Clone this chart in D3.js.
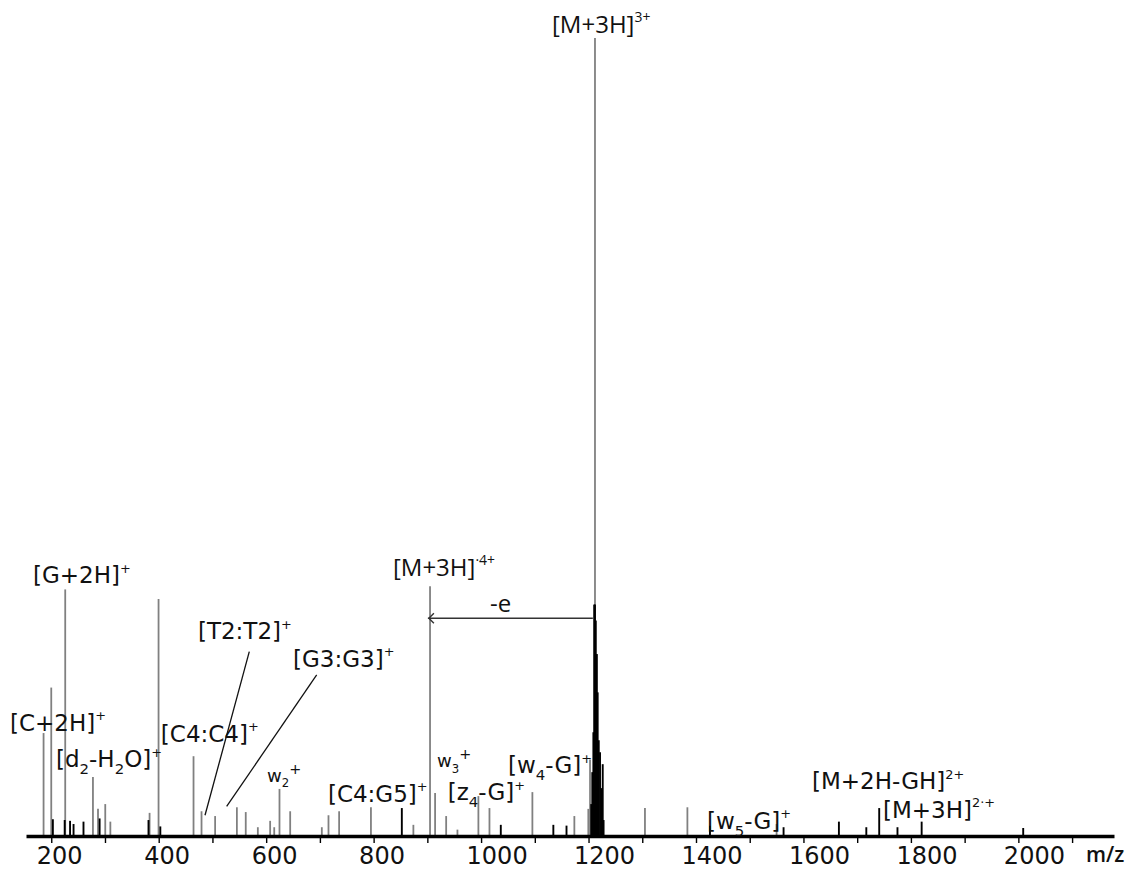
<!DOCTYPE html>
<html>
<head>
<meta charset="utf-8">
<script src="https://cdn.jsdelivr.net/npm/d3@7"></script>
<style>
  body { margin: 0; background: #fff; }
</style>
</head>
<body>
<div id="chart"></div>
<script>
// m/z and relative intensity (%) of the grey stick peaks
const greyMz  = [185.7, 200, 226, 277.6, 287, 300.5, 310, 383, 399.7, 464.8, 479.7, 505, 545.5, 562, 584.5,
                 607.4, 615, 624.8, 644.7, 703.6, 716, 735.8, 795, 874, 905, 914.4, 935, 956, 995, 1015.6,
                 1095.5, 1173.6, 1199.6, 1202.8, 1212, 1305, 1384, 1550];
const greyInt = [12.9, 18.6, 30.9, 7.4, 3.4, 4.0, 1.8, 2.9, 29.7, 10.0, 3.1, 2.5, 3.6, 3.0, 1.1,
                 1.9, 1.1, 5.9, 3.1, 1.1, 2.6, 3.1, 3.6, 1.4, 31.3, 5.4, 2.5, 0.8, 5.0, 3.5,
                 5.5, 2.5, 3.4, 9.6, 100, 3.5, 3.6, 1.5];

// black peaks (the molecular ion cluster and the small noise peaks)
const blackMz  = [203, 225, 235, 241.5, 260, 290, 381, 403, 852.5, 1036.7, 1134.5, 1159,
                  1205, 1207, 1209, 1210.5, 1212, 1213.5, 1215.5, 1217, 1219, 1221.4, 1224, 1226.4, 1228,
                  1426, 1563, 1666, 1717, 1741, 1775, 1820, 2009];
const blackInt = [2.1, 2.0, 1.9, 1.5, 1.8, 2.2, 2.0, 1.2, 3.5, 1.4, 1.4, 1.3,
                  4, 8, 13, 29, 29, 27, 22.8, 18, 12, 10.5, 6, 9, 2,
                  1.3, 1.1, 1.8, 1.1, 3.5, 1.1, 1.8, 1.0];

const minorTicks = [200, 300, 400, 500, 600, 700, 800, 900, 1000, 1100, 1200, 1300, 1400, 1500,
                    1600, 1700, 1800, 1900, 2000, 2100];
const majorTicks = [200, 400, 600, 800, 1000, 1200, 1400, 1600, 1800, 2000];

// annotations: text ("_" = subscript char, "^" = superscript rest), left m/z, baseline intensity
const labelText = ["[M+3H]^3+", "[M+3H]^·4+", "-e", "[G+2H]^+", "[C+2H]^+", "[d_2-H_2O]^+",
                   "[C4:C4]^+", "[T2:T2]^+", "[G3:G3]^+", "w_2^+", "[C4:G5]^+", "w_3^+", "[z_4-G]^+",
                   "[w_4-G]^+", "[w_5-G]^+", "[M+2H-GH]^2+", "[M+3H]^2·+"];
const labelMz   = [1132, 836, 1016.6, 166, 123.2, 208.8, 404, 473, 650, 601.5, 715, 918, 938,
                   1050, 1420.5, 1616, 1748];
const labelInt  = [100.6, 32.6, 28.1, 31.7, 13.2, 8.6, 11.8, 24.7, 21.2, 6.8, 4.3, 8.6, 4.5,
                   7.9, 0.9, 5.9, 2.3];
const labelKind = ["os", "os", "os", "dv", "dv", "dv", "dv", "dv", "dv", "w", "dv", "w", "dv",
                   "dv", "dv", "dv", "dv"];

// leader lines [mz1, int1, mz2, int2]
const leaders = [[568.6, 23.1, 486.2, 2.6], [694, 20.2, 526.5, 3.7]];
// "-e" arrow: from the 3+ ion to the 4+ radical
const arrowFrom = 1208, arrowTo = 901, arrowInt = 27.3;

const width = 1133, height = 870;

const svg = d3.select("#chart").append("svg")
    .attr("width", width)
    .attr("height", height);

const x = d3.scaleLinear().domain([153, 2178]).range([26, 1114]);
const y = d3.scaleLinear().domain([0, 100]).range([836, 38]);

// sticks
svg.append("g").selectAll("line")
    .data(greyMz.map((m, i) => ({ mz: m, v: greyInt[i] })))
    .join("line")
    .attr("x1", d => x(d.mz)).attr("x2", d => x(d.mz))
    .attr("y1", y(0)).attr("y2", d => y(d.v))
    .attr("stroke", "#808080")
    .attr("stroke-width", 1.8);

svg.append("g").selectAll("line")
    .data(blackMz.map((m, i) => ({ mz: m, v: blackInt[i] })))
    .join("line")
    .attr("x1", d => x(d.mz)).attr("x2", d => x(d.mz))
    .attr("y1", y(0)).attr("y2", d => y(d.v))
    .attr("stroke", "#000")
    .attr("stroke-width", 1.9);

// axis: thick noisy baseline, minor ticks every 100, labels every 200
const axisG = svg.append("g").attr("transform", "translate(0," + y(0) + ")");
axisG.call(d3.axisBottom(x).tickValues(minorTicks).tickSize(7).tickSizeOuter(0).tickFormat(""));
axisG.select(".domain").attr("stroke", "#000").attr("stroke-width", 3.5);
axisG.selectAll(".tick line").attr("stroke", "#000").attr("stroke-width", 1.4);

const labG = svg.append("g").attr("transform", "translate(0," + y(0) + ")");
labG.call(d3.axisBottom(x).tickValues(majorTicks).tickSize(0).tickFormat(d3.format("d")));
labG.select(".domain").remove();
labG.selectAll("text")
    .attr("text-anchor", "start")
    .attr("x", -15)
    .attr("y", 11)
    .attr("dy", "0.71em")
    .style("font-family", "'DejaVu Sans', sans-serif")
    .style("font-size", "24px")
    .attr("fill", "#111");

svg.append("text")
    .attr("x", x.range()[1] - 28)
    .attr("y", y(0) + 26)
    .style("font-family", "'Open Sans', sans-serif")
    .style("font-size", "21px")
    .style("font-weight", 600)
    .attr("fill", "#111")
    .text("m/z");

// labels
function addLabel(str, px, py, font, size, supScale) {
    const t = svg.append("text")
        .attr("x", px).attr("y", py)
        .style("font-family", font)
        .style("font-size", size + "px")
        .attr("fill", "#111");
    const segs = [];
    let buf = "", i = 0;
    while (i < str.length) {
        const c = str[i];
        if (c === "_") {
            if (buf) segs.push({ t: buf, k: "base" });
            buf = "";
            segs.push({ t: str[i + 1], k: "sub" });
            i += 2;
        } else if (c === "^") {
            if (buf) segs.push({ t: buf, k: "base" });
            buf = "";
            segs.push({ t: str.slice(i + 1), k: "sup" });
            i = str.length;
        } else {
            buf += c;
            i++;
        }
    }
    if (buf) segs.push({ t: buf, k: "base" });
    let cur = 0;
    segs.forEach(s => {
        const target = s.k === "sub" ? size * 0.3 : s.k === "sup" ? -size * 0.45 : 0;
        const fs = s.k === "base" ? size : s.k === "sup" ? size * supScale : size * 0.65;
        t.append("tspan")
            .attr("dy", target - cur)
            .style("font-size", fs + "px")
            .text(s.t);
        cur = target;
    });
}

const fonts = {
    os: ["'Open Sans', sans-serif", 24, 0.58],
    dv: ["'DejaVu Sans', sans-serif", 23, 0.56],
    w:  ["'DejaVu Sans', sans-serif", 18, 0.8]
};
labelText.forEach((s, i) => {
    const f = fonts[labelKind[i]];
    addLabel(s, x(labelMz[i]), y(labelInt[i]), f[0], f[1], f[2]);
});

// leader lines
svg.append("g").selectAll("line")
    .data(leaders)
    .join("line")
    .attr("x1", d => x(d[0])).attr("y1", d => y(d[1]))
    .attr("x2", d => x(d[2])).attr("y2", d => y(d[3]))
    .attr("stroke", "#111")
    .attr("stroke-width", 1.3);

// -e arrow
const ax1 = x(arrowFrom), ax2 = x(arrowTo), ay = y(arrowInt);
svg.append("line")
    .attr("x1", ax1).attr("x2", ax2).attr("y1", ay).attr("y2", ay)
    .attr("stroke", "#333").attr("stroke-width", 1.5);
svg.append("path")
    .attr("d", `M${ax2 + 6},${ay - 5} L${ax2 + 1},${ay} L${ax2 + 6},${ay + 5}`)
    .attr("fill", "none").attr("stroke", "#333").attr("stroke-width", 1.4);
</script>
</body>
</html>
